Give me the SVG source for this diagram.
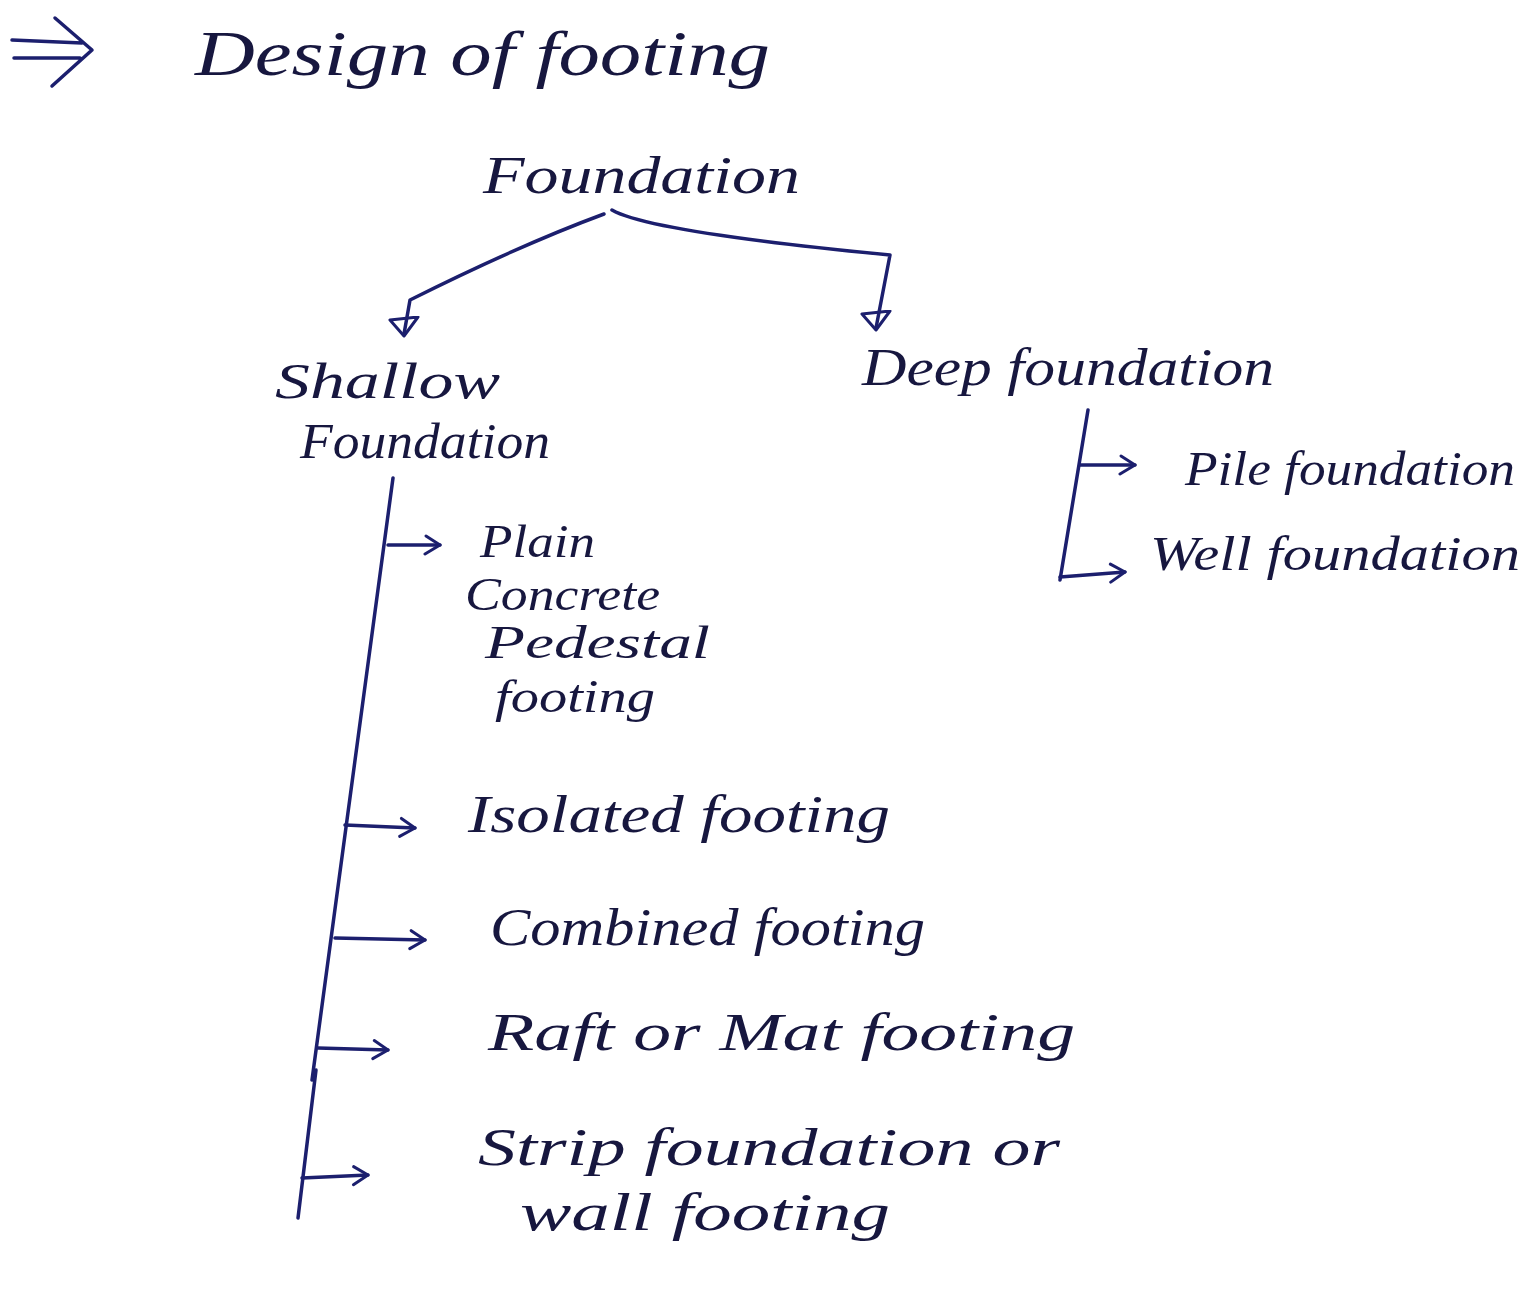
<svg xmlns="http://www.w3.org/2000/svg" width="1529" height="1297" viewBox="0 0 1529 1297">
<style>
.t{font-family:"Liberation Serif","DejaVu Serif",serif;font-style:italic;fill:#17173f;}
.l{fill:none;stroke:#1c1f6e;stroke-width:3.5;stroke-linecap:round;stroke-linejoin:round;}
</style>
<defs>
<marker id="ah" viewBox="0 0 22 22" refX="19" refY="11" markerWidth="22" markerHeight="22" markerUnits="userSpaceOnUse" orient="auto">
<path d="M5,2 L19,11 L4,20" fill="none" stroke="#1c1f6e" stroke-width="3" stroke-linecap="round" stroke-linejoin="round"/>
</marker>
<marker id="tri" viewBox="0 0 32 22" refX="16" refY="18" markerWidth="32" markerHeight="22" markerUnits="userSpaceOnUse" orient="0">
<path d="M2,4 L30,1 L16,20 Z" fill="none" stroke="#1c1f6e" stroke-width="3" stroke-linejoin="round"/>
</marker>
</defs>
<rect width="1529" height="1297" fill="#ffffff"/>

<g id="heading">
<path class="l" d="M12,40 L82,43 M14,58 L80,58 M55,18 L92,50 L52,86"/>
<text class="t" x="195" y="75" font-size="64" textLength="575" lengthAdjust="spacingAndGlyphs">Design of footing</text>
</g>

<g id="connectors">
<path class="l" d="M604,214 Q520,245 410,300 L404,334" marker-end="url(#tri)"/>
<path class="l" d="M612,210 Q650,232 890,255 L876,328" marker-end="url(#tri)"/>
<path class="l" d="M1088,410 L1060,580"/>
<path class="l" d="M1080,465 L1135,465" marker-end="url(#ah)"/>
<path class="l" d="M1060,577 L1125,572" marker-end="url(#ah)"/>
<path class="l" d="M393,478 L312,1080"/>
<path class="l" d="M316,1070 L298,1218"/>
<path class="l" d="M388,545 L440,545" marker-end="url(#ah)"/>
<path class="l" d="M345,825 L415,828" marker-end="url(#ah)"/>
<path class="l" d="M335,938 L425,940" marker-end="url(#ah)"/>
<path class="l" d="M318,1048 L388,1050" marker-end="url(#ah)"/>
<path class="l" d="M302,1178 L368,1175" marker-end="url(#ah)"/>
</g>

<g id="foundation">
<text class="t" x="483" y="193" font-size="52" textLength="317" lengthAdjust="spacingAndGlyphs">Foundation</text>
</g>
<g id="shallow">
<text class="t" x="275" y="398" font-size="50" textLength="225" lengthAdjust="spacingAndGlyphs">Shallow</text>
<text class="t" x="300" y="458" font-size="50" textLength="250" lengthAdjust="spacingAndGlyphs">Foundation</text>
</g>
<g id="deep">
<text class="t" x="862" y="385" font-size="52" textLength="412" lengthAdjust="spacingAndGlyphs">Deep foundation</text>
</g>
<g id="pile">
<text class="t" x="1185" y="485" font-size="48" textLength="330" lengthAdjust="spacingAndGlyphs">Pile foundation</text>
</g>
<g id="well">
<text class="t" x="1150" y="570" font-size="48" textLength="370" lengthAdjust="spacingAndGlyphs">Well foundation</text>
</g>
<g id="plain">
<text class="t" x="480" y="557" font-size="46" textLength="115" lengthAdjust="spacingAndGlyphs">Plain</text>
<text class="t" x="465" y="610" font-size="46" textLength="195" lengthAdjust="spacingAndGlyphs">Concrete</text>
<text class="t" x="485" y="658" font-size="46" textLength="225" lengthAdjust="spacingAndGlyphs">Pedestal</text>
<text class="t" x="495" y="712" font-size="46" textLength="160" lengthAdjust="spacingAndGlyphs">footing</text>
</g>
<g id="isolated">
<text class="t" x="468" y="832" font-size="52" textLength="422" lengthAdjust="spacingAndGlyphs">Isolated footing</text>
</g>
<g id="combined">
<text class="t" x="490" y="945" font-size="52" textLength="435" lengthAdjust="spacingAndGlyphs">Combined footing</text>
</g>
<g id="raft">
<text class="t" x="488" y="1050" font-size="52" textLength="587" lengthAdjust="spacingAndGlyphs">Raft or Mat footing</text>
</g>
<g id="strip">
<text class="t" x="478" y="1165" font-size="52" textLength="582" lengthAdjust="spacingAndGlyphs">Strip foundation or</text>
<text class="t" x="520" y="1230" font-size="52" textLength="370" lengthAdjust="spacingAndGlyphs">wall footing</text>
</g>
</svg>
